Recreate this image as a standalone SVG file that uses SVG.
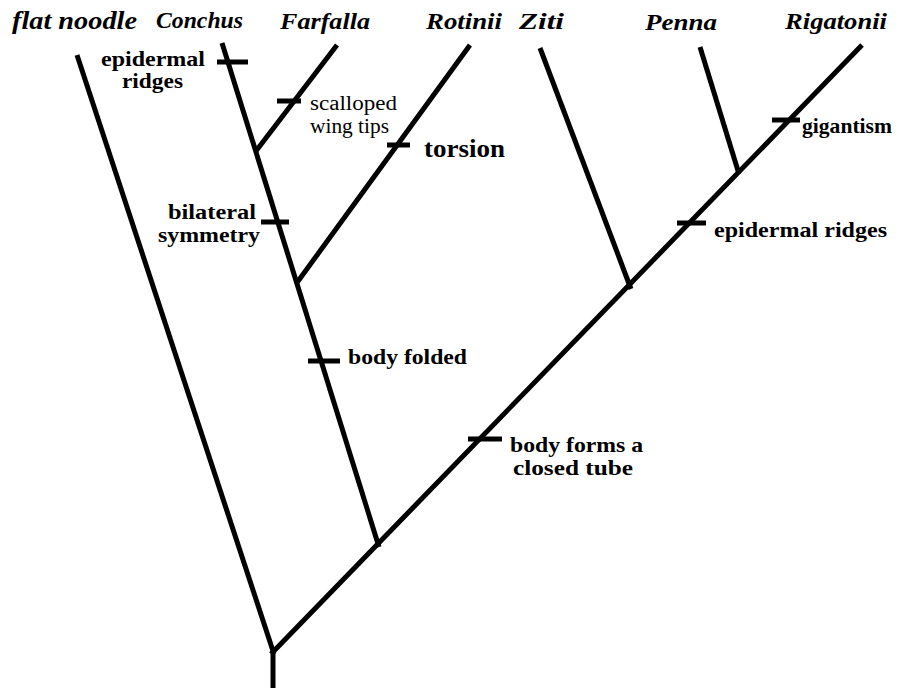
<svg xmlns="http://www.w3.org/2000/svg" width="904" height="689" viewBox="0 0 904 689">
<style>
.br{stroke:#000;stroke-width:5;fill:none;stroke-linecap:butt}
.tk{stroke:#000;stroke-width:5}
.tip{font-family:"Liberation Serif",serif;font-weight:bold;font-style:italic;font-size:24px;fill:#000}
.lb{font-family:"Liberation Serif",serif;font-weight:bold;font-size:21px;fill:#000}
.rg{font-family:"Liberation Serif",serif;font-size:20px;fill:#000}
</style>
<rect width="904" height="689" fill="#fff"/>
<g id="connectors">
<line class="br" x1="273" y1="688" x2="273" y2="652"/>
<line class="br" x1="77" y1="55" x2="274" y2="654"/>
<line class="br" x1="271" y1="654" x2="862" y2="45"/>
<line class="br" x1="222" y1="43" x2="379" y2="547"/>
<line class="br" x1="256" y1="151" x2="337" y2="45"/>
<line class="br" x1="296" y1="284" x2="470" y2="45"/>
<line class="br" x1="540" y1="48" x2="631" y2="289"/>
<line class="br" x1="700" y1="47" x2="739" y2="174"/>
</g>
<g id="tick-epidermal-ridges-1"><line class="tk" x1="217" y1="62" x2="248" y2="62"/>
<text class="lb" x="101" y="66" textLength="104" lengthAdjust="spacingAndGlyphs">epidermal</text><text class="lb" x="122" y="88" textLength="61" lengthAdjust="spacingAndGlyphs">ridges</text></g>
<g id="tick-scalloped"><line class="tk" x1="277" y1="101" x2="301" y2="101"/>
<text class="rg" x="310" y="110" textLength="87" lengthAdjust="spacingAndGlyphs">scalloped</text><text class="rg" x="310" y="133" textLength="79" lengthAdjust="spacingAndGlyphs">wing tips</text></g>
<g id="tick-torsion"><line class="tk" x1="387" y1="145" x2="410" y2="145"/>
<text class="lb" x="424" y="157" style="font-size:26px" textLength="81" lengthAdjust="spacingAndGlyphs">torsion</text></g>
<g id="tick-bilateral"><line class="tk" x1="261" y1="222" x2="289" y2="222"/>
<text class="lb" x="168" y="219" style="font-size:20px" textLength="88" lengthAdjust="spacingAndGlyphs">bilateral</text><text class="lb" x="158" y="242" style="font-size:20px" textLength="102" lengthAdjust="spacingAndGlyphs">symmetry</text></g>
<g id="tick-body-folded"><line class="tk" x1="308" y1="361" x2="340" y2="361"/>
<text class="lb" x="348" y="364" textLength="119" lengthAdjust="spacingAndGlyphs">body folded</text></g>
<g id="tick-closed-tube"><line class="tk" x1="468" y1="439" x2="502" y2="439"/>
<text class="lb" x="510" y="452" textLength="133" lengthAdjust="spacingAndGlyphs">body forms a</text><text class="lb" x="513" y="475" textLength="120" lengthAdjust="spacingAndGlyphs">closed tube</text></g>
<g id="tick-epidermal-ridges-2"><line class="tk" x1="677" y1="223" x2="706" y2="223"/>
<text class="lb" x="714" y="237" textLength="173" lengthAdjust="spacingAndGlyphs">epidermal ridges</text></g>
<g id="tick-gigantism"><line class="tk" x1="772" y1="120" x2="800" y2="120"/>
<text class="lb" x="802" y="133" textLength="90" lengthAdjust="spacingAndGlyphs">gigantism</text></g>
<g id="tip-flat-noodle"><text class="tip" x="12" y="29" style="font-size:26px" textLength="125" lengthAdjust="spacingAndGlyphs">flat noodle</text></g>
<g id="tip-conchus"><text class="tip" x="156" y="28" textLength="87" lengthAdjust="spacingAndGlyphs">Conchus</text></g>
<g id="tip-farfalla"><text class="tip" x="280" y="29" textLength="90" lengthAdjust="spacingAndGlyphs">Farfalla</text></g>
<g id="tip-rotinii"><text class="tip" x="426" y="29" textLength="76" lengthAdjust="spacingAndGlyphs">Rotinii</text></g>
<g id="tip-ziti"><text class="tip" x="519" y="29" textLength="45" lengthAdjust="spacingAndGlyphs">Ziti</text></g>
<g id="tip-penna"><text class="tip" x="645" y="30" textLength="72" lengthAdjust="spacingAndGlyphs">Penna</text></g>
<g id="tip-rigatonii"><text class="tip" x="785" y="29" textLength="102" lengthAdjust="spacingAndGlyphs">Rigatonii</text></g>
</svg>
